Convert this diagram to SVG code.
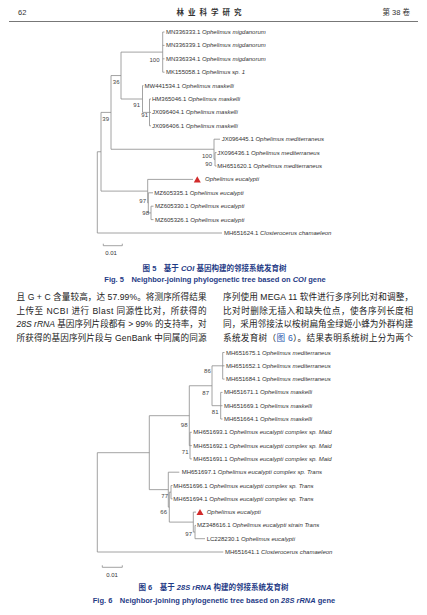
<svg xmlns="http://www.w3.org/2000/svg" width="427" height="615" viewBox="0 0 427 615">
<style>
.hd{font-family:"Liberation Sans","Noto Sans CJK SC",sans-serif;font-size:7.5px;fill:#333}
.lf{font-family:"Liberation Sans",Arial,sans-serif;font-size:6px;fill:#333}
.sp{font-style:italic}
.bs{font-family:"Liberation Sans",Arial,sans-serif;font-size:6px;fill:#444;text-anchor:end}
.br{fill:none;stroke:#8c8c8c;stroke-width:0.8}
.cap{font-family:"Liberation Sans","Noto Sans CJK SC",sans-serif;font-size:7.5px;font-weight:bold;fill:#1f3b86;text-anchor:middle}
.bd{font-family:"Liberation Sans","Noto Sans CJK SC",sans-serif;font-size:8.6px;fill:#222}
.tri{fill:#d22b2b}
</style>
<rect width="427" height="615" fill="#fff"/>
<g id="header">
<text class="hd" x="18" y="14.5">62</text>
<text class="hd" x="211" y="14.5" text-anchor="middle" font-weight="bold" letter-spacing="4">林业科学研究</text>
<text class="hd" x="410" y="14.5" text-anchor="end">第 38 卷</text>
<line x1="9" y1="21.5" x2="418" y2="21.5" stroke="#777" stroke-width="1.2"/>
</g>

<!-- Tree 1 connectors -->
<g id="connectors-fig5" class="br">
<path d="M162.7 32V72.2M162.7 32H164.5M162.7 45.4H164.5M162.7 58.8H164.5M162.7 72.2H164.5"/>
<path d="M121 52.1H162.7M121 52.1V99M121 99H142.5"/>
<path d="M142.5 85.6V112.4M142.5 85.6H143.5M142.5 112.4H149.5"/>
<path d="M149.5 99V125.8M149.5 99H151M149.5 112.4H151M149.5 125.8H151"/>
<path d="M111 75.55V149.25M111 75.55H121M111 149.25H214"/>
<path d="M214 139.2V159.3M214 139.2H220M214 159.3H215"/>
<path d="M215 152.6V166M215 152.6H216.5M215 166H216.5"/>
<path d="M101 112.4V191.1M101 112.4H111M101 191.1H147.7"/>
<path d="M147.7 179.4V202.85M147.7 179.4H193M147.7 202.85H148.3"/>
<path d="M148.3 192.8V212.9M148.3 192.8H153M148.3 212.9H151"/>
<path d="M151 206.2V219.6M151 206.2H153.5M151 219.6H153.5"/>
<path d="M97.3 151.75V233M97.3 151.75H101M97.3 233H222"/>
<path d="M103.3 245.7H122.3M103.3 243.7V245.7M122.3 243.7V245.7"/>
</g>

<g id="fig5-leaves">
<g id="t1-l0"><text class="lf" x="166" y="34">MN336333.1 <tspan class="sp">Ophelimus migdanorum</tspan></text></g>
<g id="t1-l1"><text class="lf" x="166" y="47.4">MN336339.1 <tspan class="sp">Ophelimus migdanorum</tspan></text></g>
<g id="t1-l2"><text class="lf" x="166" y="60.8">MN336334.1 <tspan class="sp">Ophelimus migdanorum</tspan></text></g>
<g id="t1-l3"><text class="lf" x="166" y="74.2">MK155058.1 <tspan class="sp">Ophelimus sp. 1</tspan></text></g>
<g id="t1-l4"><text class="lf" x="144.5" y="87.6">MW441534.1 <tspan class="sp">Ophelimus maskelli</tspan></text></g>
<g id="t1-l5"><text class="lf" x="152" y="101">HM365046.1 <tspan class="sp">Ophelimus maskelli</tspan></text></g>
<g id="t1-l6"><text class="lf" x="152" y="114.4">JX096404.1 <tspan class="sp">Ophelimus maskelli</tspan></text></g>
<g id="t1-l7"><text class="lf" x="152" y="127.8">JX096406.1 <tspan class="sp">Ophelimus maskelli</tspan></text></g>
<g id="t1-l8"><text class="lf" x="221.7" y="141.2">JX096445.1 <tspan class="sp">Ophelimus mediterraneus</tspan></text></g>
<g id="t1-l9"><text class="lf" x="217.3" y="154.6">JX096436.1 <tspan class="sp">Ophelimus mediterraneus</tspan></text></g>
<g id="t1-l10"><text class="lf" x="217.3" y="168">MH651620.1 <tspan class="sp">Ophelimus mediterraneus</tspan></text></g>
<g id="t1-l11"><polygon class="tri" points="197.3,176.2 193.8,182.4 200.8,182.4"/><text class="lf sp" x="205" y="181.4">Ophelimus eucalypti</text></g>
<g id="t1-l12"><text class="lf" x="154.3" y="194.8">MZ605335.1 <tspan class="sp">Ophelimus eucalypti</tspan></text></g>
<g id="t1-l13"><text class="lf" x="155" y="208.2">MZ605330.1 <tspan class="sp">Ophelimus eucalypti</tspan></text></g>
<g id="t1-l14"><text class="lf" x="155" y="221.6">MZ605326.1 <tspan class="sp">Ophelimus eucalypti</tspan></text></g>
<g id="t1-l15"><text class="lf" x="224" y="235">MH651624.1 <tspan class="sp">Closterocerus chamaeleon</tspan></text></g>
</g>
<g id="fig5-support">
<text class="bs" x="159.5" y="61.5">100</text>
<text class="bs" x="119.5" y="83.7">36</text>
<text class="bs" x="140" y="107">91</text>
<text class="bs" x="148" y="117">91</text>
<text class="bs" x="109" y="121">39</text>
<text class="bs" x="212" y="157.7">100</text>
<text class="bs" x="212" y="166.3">90</text>
<text class="bs" x="146" y="203">97</text>
<text class="bs" x="149" y="215.3">98</text>
<text class="lf" x="111" y="254.5" text-anchor="middle">0.01</text>
</g>
<g id="fig5-caption">
<text class="cap" x="214.5" y="271">图 5　基于 <tspan font-style="italic">COI</tspan> 基因构建的邻接系统发育树</text>
<text class="cap" x="215" y="282">Fig. 5　Neighbor-joining phylogenetic tree based on <tspan font-style="italic">COI</tspan> gene</text>
</g>

<g id="body-text">
<text class="bd" x="16.5" y="300" textLength="190" lengthAdjust="spacing">且 G + C 含量较高，达 57.99%。将测序所得结果</text>
<text class="bd" x="16.5" y="313.5" textLength="190" lengthAdjust="spacing">上传至 NCBI 进行 Blast 同源性比对，所获得的</text>
<text class="bd" x="16.5" y="327" textLength="190" lengthAdjust="spacing"><tspan font-style="italic">28S rRNA</tspan> 基因序列片段都有 &gt; 99% 的支持率，对</text>
<text class="bd" x="16.5" y="340.5" textLength="190" lengthAdjust="spacing">所获得的基因序列片段与 GenBank 中同属的同源</text>
<text class="bd" x="223" y="300" textLength="190" lengthAdjust="spacing">序列使用 MEGA 11 软件进行多序列比对和调整，</text>
<text class="bd" x="223" y="313.5" textLength="190" lengthAdjust="spacing">比对时删除无插入和缺失位点，使各序列长度相</text>
<text class="bd" x="223" y="327" textLength="190" lengthAdjust="spacing">同，采用邻接法以桉树扁角金绿姬小蜂为外群构建</text>
<text class="bd" x="223" y="340.5" textLength="190" lengthAdjust="spacing">系统发育树（<tspan fill="#2a5bb0">图 6</tspan>）。结果表明系统树上分为两个</text>
</g>

<!-- Tree 2 connectors -->
<g id="connectors-fig6" class="br">
<path d="M222.7 352.5V379.1M222.7 352.5H224.5M222.7 365.8H224.5M222.7 379.1H224.5"/>
<path d="M220.7 392.4V419M220.7 392.4H222.5M220.7 405.7H222.5M220.7 419H222.5"/>
<path d="M212 365.8V405.7M212 365.8H222.7M212 405.7H220.7"/>
<path d="M190 432.3V458.9M190 432.3H191.8M190 445.6H191.8M190 458.9H191.8"/>
<path d="M189.3 385.75V445.6M189.3 385.75H212M189.3 445.6H190"/>
<path d="M171 485.5V498.8M171 485.5H172.5M171 498.8H172.5"/>
<path d="M195 525.4V538.7M195 525.4H196M195 538.7H205"/>
<path d="M193.3 512.1V532.05M193.3 512.1H196M193.3 532.05H195"/>
<path d="M169.3 492.15V522.1M169.3 492.15H171M169.3 522.1H193.3"/>
<path d="M168.3 472.2V507.1M168.3 472.2H179.3M168.3 507.1H169.3"/>
<path d="M149.3 415.7V489.65M149.3 415.7H189.3M149.3 489.65H168.3"/>
<path d="M97.3 452.7V552M97.3 452.7H149.3M97.3 552H223.3"/>
<path d="M102.3 567.3H122.3M102.3 565.3V567.3M122.3 565.3V567.3"/>
</g>

<g id="fig6-leaves">
<g id="t2-l0"><text class="lf" x="226" y="354.5">MH651675.1 <tspan class="sp">Ophelimus mediterraneus</tspan></text></g>
<g id="t2-l1"><text class="lf" x="226" y="367.8">MH651652.1 <tspan class="sp">Ophelimus mediterraneus</tspan></text></g>
<g id="t2-l2"><text class="lf" x="226" y="381.1">MH651684.1 <tspan class="sp">Ophelimus mediterraneus</tspan></text></g>
<g id="t2-l3"><text class="lf" x="224" y="394.4">MH651671.1 <tspan class="sp">Ophelimus maskelli</tspan></text></g>
<g id="t2-l4"><text class="lf" x="224" y="407.7">MH651669.1 <tspan class="sp">Ophelimus maskelli</tspan></text></g>
<g id="t2-l5"><text class="lf" x="224" y="421">MH651664.1 <tspan class="sp">Ophelimus maskelli</tspan></text></g>
<g id="t2-l6"><text class="lf" x="193.3" y="434.3">MH651693.1 <tspan class="sp">Ophelimus eucalypti complex sp. Maid</tspan></text></g>
<g id="t2-l7"><text class="lf" x="193.3" y="447.6">MH651692.1 <tspan class="sp">Ophelimus eucalypti complex sp. Maid</tspan></text></g>
<g id="t2-l8"><text class="lf" x="193.3" y="460.9">MH651691.1 <tspan class="sp">Ophelimus eucalypti complex sp. Maid</tspan></text></g>
<g id="t2-l9"><text class="lf" x="181.7" y="474.2">MH651697.1 <tspan class="sp">Ophelimus eucalypti complex sp. Trans</tspan></text></g>
<g id="t2-l10"><text class="lf" x="173.3" y="487.5">MH651696.1 <tspan class="sp">Ophelimus eucalypti complex sp. Trans</tspan></text></g>
<g id="t2-l11"><text class="lf" x="173.3" y="500.8">MH651694.1 <tspan class="sp">Ophelimus eucalypti complex sp. Trans</tspan></text></g>
<g id="t2-l12"><polygon class="tri" points="200,508.9 196.5,515.1 203.5,515.1"/><text class="lf sp" x="206.7" y="514.1">Ophelimus eucalypti</text></g>
<g id="t2-l13"><text class="lf" x="197" y="527.4">MZ348616.1 <tspan class="sp">Ophelimus eucalypti strain Trans</tspan></text></g>
<g id="t2-l14"><text class="lf" x="206.7" y="540.7">LC228230.1 <tspan class="sp">Ophelimus eucalypti</tspan></text></g>
<g id="t2-l15"><text class="lf" x="225" y="554">MH651641.1 <tspan class="sp">Closterocerus chamaeleon</tspan></text></g>
</g>
<g id="fig6-support">
<text class="bs" x="210.8" y="372.7">86</text>
<text class="bs" x="209" y="395.3">87</text>
<text class="bs" x="218.5" y="413.7">81</text>
<text class="bs" x="187.5" y="427">98</text>
<text class="bs" x="188.5" y="453.7">71</text>
<text class="bs" x="168" y="498">77</text>
<text class="bs" x="167" y="514.3">66</text>
<text class="bs" x="192" y="536">97</text>
<text class="lf" x="112" y="576.5" text-anchor="middle">0.01</text>
</g>
<g id="fig6-caption">
<text class="cap" x="213.5" y="589.5">图 6　基于 <tspan font-style="italic">28S rRNA</tspan> 构建的邻接系统发育树</text>
<text class="cap" x="214" y="603">Fig. 6　Neighbor-joining phylogenetic tree based on <tspan font-style="italic">28S rRNA</tspan> gene</text>
</g>
</svg>
